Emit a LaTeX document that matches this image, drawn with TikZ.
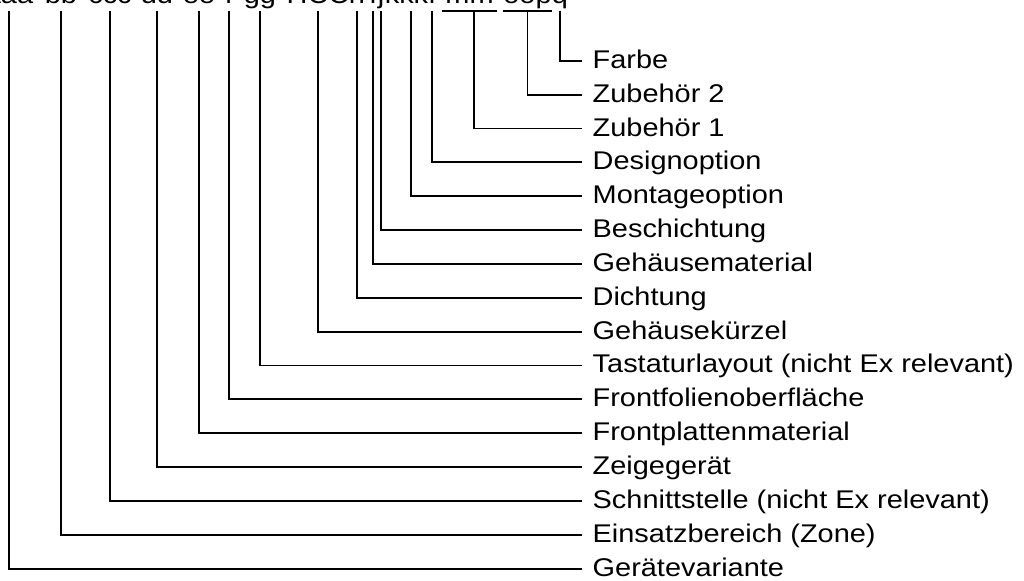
\documentclass[tikz,border=0pt]{standalone}
\usepackage{fontspec}
\setmainfont{Liberation Sans}[FakeStretch=1.13]
\usetikzlibrary{positioning}
\tikzset{
    code/.style={anchor=base, inner sep=0pt, outer sep=0pt, text depth=5.6pt, font=\fontsize{19.2pt}{23pt}\selectfont},
    group/.style={code, minimum width=#1},
    field/.style={rectangle, inner xsep=8pt, inner ysep=0pt, outer sep=0pt, minimum height=25.39pt, text height=14pt, text depth=2.75pt, font=\fontsize{19.2pt}{23pt}\selectfont},
    leader/.style={line width=1.35pt}
}

\begin{document}
\begin{tikzpicture}[x=0.75pt, y=-0.75pt]
        \useasboundingbox (0,0) rectangle (1024,581);

        \node (aaa) [code] at (9,3.5) {aaa};
        \node (bb) [code] at (61,3.5) {bb};
        \node (ccc) [code] at (110,3.5) {ccc};
        \node (dd) [code] at (157,3.5) {dd};
        \node (ee) [code] at (199,3.5) {ee};
        \node (f) [code] at (229,3.5) {f};
        \node (gg) [code] at (260,3.5) {gg};
        \node (HCC) [code] at (318,3.5) {HCC};
        \node (h) [code] at (357,3.5) {h};
        \node (i) [code] at (373,3.5) {i};
        \node (j) [code] at (381,3.5) {j};
        \node (kkk) [code] at (406.5,3.5) {kkk};
        \node (l) [code] at (432,3.5) {l};
        \node (mm) [group=41.25pt] at (469.5,3.5) {mm};
        \node (oop) [code] at (527.5,3.5) {oop};
        \node (q) [code] at (560,3.5) {q};

        \node (farbe) [field, anchor=west] at (582,60.8) {Farbe};
        \node (zub2) [field, below right=0pt and 0pt of farbe.south west] {Zubehör 2};
        \node (zub1) [field, below right=0pt and 0pt of zub2.south west] {Zubehör 1};
        \node (design) [field, below right=0pt and 0pt of zub1.south west] {Designoption};
        \node (montage) [field, below right=0pt and 0pt of design.south west] {Montageoption};
        \node (beschicht) [field, below right=0pt and 0pt of montage.south west] {Beschichtung};
        \node (material) [field, below right=0pt and 0pt of beschicht.south west] {Gehäusematerial};
        \node (dichtung) [field, below right=0pt and 0pt of material.south west] {Dichtung};
        \node (kuerzel) [field, below right=0pt and 0pt of dichtung.south west] {Gehäusekürzel};
        \node (layout) [field, below right=0pt and 0pt of kuerzel.south west] {Tastaturlayout (nicht Ex relevant)};
        \node (folie) [field, below right=0pt and 0pt of layout.south west] {Frontfolienoberfläche};
        \node (platte) [field, below right=0pt and 0pt of folie.south west] {Frontplattenmaterial};
        \node (zeiger) [field, below right=0pt and 0pt of platte.south west] {Zeigegerät};
        \node (schnitt) [field, below right=0pt and 0pt of zeiger.south west] {Schnittstelle (nicht Ex relevant)};
        \node (zone) [field, below right=0pt and 0pt of schnitt.south west] {Einsatzbereich (Zone)};
        \node (geraet) [field, below right=0pt and 0pt of zone.south west] {Gerätevariante};

        \draw [leader] (mm.south west) -- (mm.south east);
        \draw [leader] (oop.south west) -- (oop.south east);

        \draw [leader] (q) |- (farbe);
        \draw [leader] (oop) |- (zub2);
        \draw [leader] ([xshift=3.4pt]mm.south) |- (zub1);
        \draw [leader] (l) |- (design);
        \draw [leader] ([xshift=3.4pt]kkk.south) |- (montage);
        \draw [leader] (j) |- (beschicht);
        \draw [leader] (i) |- (material);
        \draw [leader] (h) |- (dichtung);
        \draw [leader] (HCC) |- (kuerzel);
        \draw [leader] (gg) |- (layout);
        \draw [leader] (f) |- (folie);
        \draw [leader] (ee) |- (platte);
        \draw [leader] (dd) |- (zeiger);
        \draw [leader] (ccc) |- (schnitt);
        \draw [leader] (bb) |- (zone);
        \draw [leader] (aaa) |- (geraet);
    \end{tikzpicture}
\end{document}
